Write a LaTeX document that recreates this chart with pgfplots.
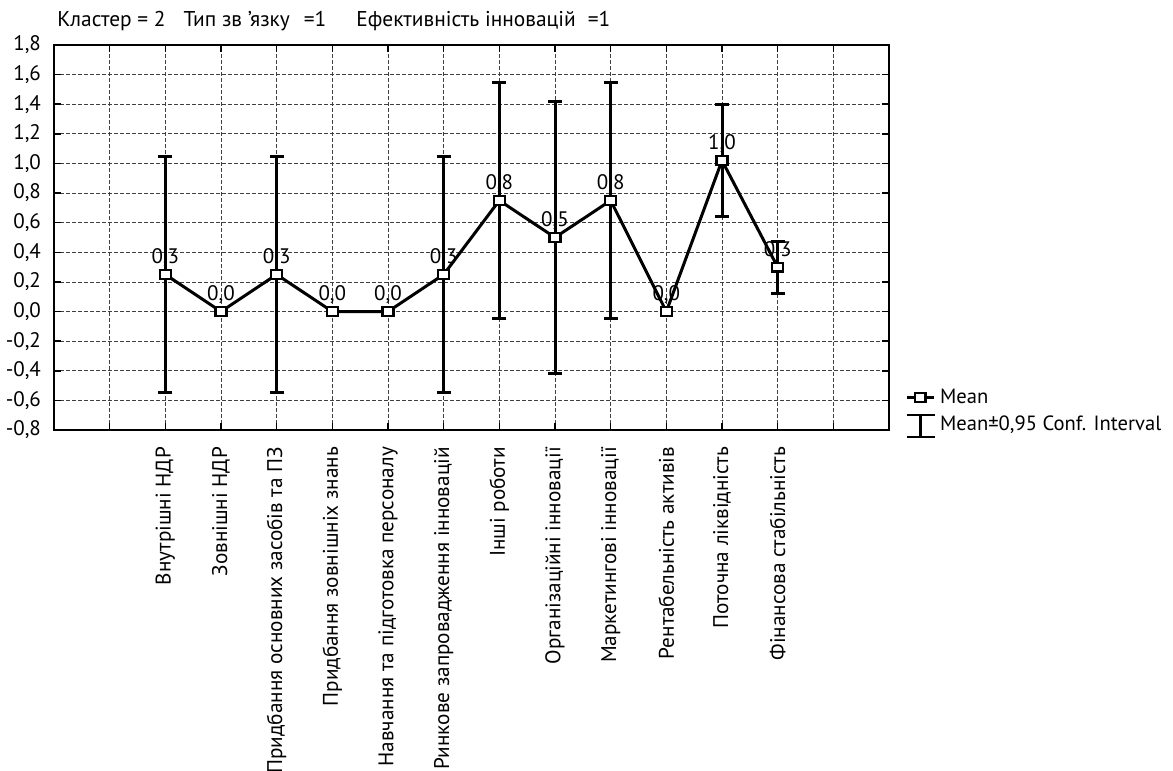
\documentclass[border=0pt]{standalone}
\usepackage{fontspec}
\setmainfont{PT Sans}
\usepackage{pgfplots}
\usepackage{pgfplotstable}
\pgfplotsset{compat=1.18}
\pgfplotstableread{
x y label
2 0.25 {0,3}
3 0.00 {0,0}
4 0.25 {0,3}
5 0.00 {0,0}
6 0.00 {0,0}
7 0.25 {0,3}
8 0.75 {0,8}
9 0.50 {0,5}
10 0.75 {0,8}
11 0.00 {0,0}
12 1.02 {1,0}
13 0.30 {0,3}
}\meantable
\pgfplotstableread{
x y err
2 0.25 0.797
4 0.25 0.797
7 0.25 0.797
8 0.75 0.797
9 0.50 0.920
10 0.75 0.797
12 1.02 0.380
13 0.30 0.175
}\errtable
\begin{document}
\begin{tikzpicture}[font=\fontsize{10.5}{12}\selectfont]
\path[use as bounding box] (-27pt,-170.5pt) rectangle (559.5pt,215pt);
\begin{axis}[
  at={(0pt,0pt)}, anchor=south west,
  scale only axis, width=417.5pt, height=192.5pt,
  xmin=0, xmax=15, ymin=-0.8, ymax=1.8,
  xtick={1,2,3,4,5,6,7,8,9,10,11,12,13,14},
  xticklabels={,Внутрішні НДР,Зовнішні НДР,Придбання основних засобів та ПЗ,Придбання зовнішніх знань,Навчання та підготовка персоналу,Ринкове запровадження інновацій,Інші роботи,Організаційні інновації,Маркетингові інновації,Рентабельність активів,Поточна ліквідність,Фінансова стабільність,},
  xticklabel style={rotate=90, anchor=east, font=\fontsize{10.6}{12}\selectfont},
  xticklabel shift=5pt,
  ytick={-0.8,-0.6,-0.4,-0.2,0,0.2,0.4,0.6,0.8,1.0,1.2,1.4,1.6,1.8},
  yticklabels={{-0,8},{-0,6},{-0,4},{-0,2},{0,0},{0,2},{0,4},{0,6},{0,8},{1,0},{1,2},{1,4},{1,6},{1,8}},
  yticklabel style={font=\fontsize{10.5}{12}\selectfont},
  yticklabel shift=3pt,
  grid=major,
  major grid style={dash pattern=on 2pt off 1pt, line width=0.4pt, black!75},
  tick align=inside, major tick length=3.5pt,
  tick style={black, line width=0.8pt},
  axis line style={line width=1pt},
  clip=false,
  legend cell align=left,
  legend style={at={(1.019,0.048)}, anchor=west, draw=none, fill=none, inner sep=0pt, row sep=1pt,
    font=\fontsize{10.3}{12}\selectfont,
    /tikz/every even column/.append style={column sep=3pt}},
]
\addplot[black, line width=1.5pt, only marks, mark=none, forget plot,
  error bars/.cd, y dir=both, y explicit,
  error bar style={line width=1.5pt, black, solid},
  error mark options={rotate=90, mark size=3.5pt, line width=1.5pt, black}]
  table[x=x, y=y, y error=err] {\errtable};
\addplot[black, line width=1.5pt, mark=square*, mark size=2.7pt,
  mark options={fill=white, draw=black, line width=1.2pt, solid, yscale=0.8},
  point meta=explicit symbolic,
  nodes near coords,
  every node near coord/.append style={anchor=base, inner sep=0pt, yshift=5.5pt, font=\fontsize{10.5}{12}\selectfont, black},
  legend image code/.code={\draw[mark repeat=2, mark phase=2] plot coordinates {(0pt,0pt) (6.75pt,0pt) (13.5pt,0pt)};}]
  table[x=x, y=y, meta=label] {\meantable};
\addlegendentry{Mean}
\addlegendimage{legend image code/.code={\draw[line width=1.3pt, black] (0pt,5pt)--(14pt,5pt) (7pt,5pt)--(7pt,-6pt) (0pt,-6pt)--(14pt,-6pt);}}
\addlegendentry{Mean±0,95 Conf. Interval}
\end{axis}
\node[anchor=base west, inner sep=0pt, font=\fontsize{10.7}{13}\selectfont] at (1.5pt,201.5pt) {Кластер = 2\hspace{9pt}Тип зв 'язку\hspace{7pt}=1\hspace{15pt}Ефективність інновацій\hspace{6pt}=1};
\end{tikzpicture}
\end{document}
